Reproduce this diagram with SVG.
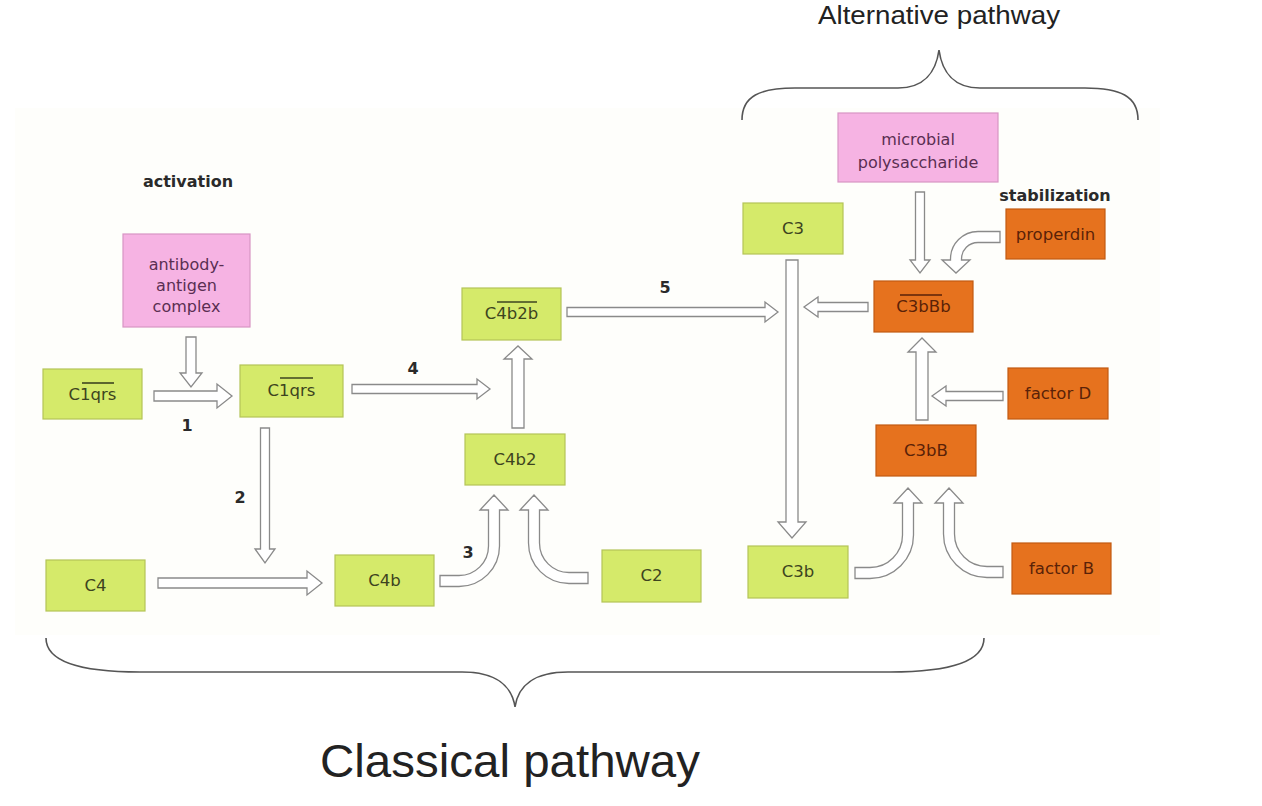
<svg xmlns="http://www.w3.org/2000/svg" width="1262" height="806" viewBox="0 0 1262 806">
<style>
.g rect{fill:#d5ea6a;stroke:#b4c458;stroke-width:1.2}
.o rect{fill:#e6721e;stroke:#c25a12;stroke-width:1.2}
.p rect{fill:#f6b3e3;stroke:#d894c4;stroke-width:1.2}
.n text{font-family:"DejaVu Sans",sans-serif;font-size:16.5px;text-anchor:middle}
.g text{fill:#3d4420}
.o text{fill:#5a2208}
.p text{fill:#5a2e52;font-size:16px}
.ol{stroke-width:1.6}
.g .ol{stroke:#3d4420}
.o .ol{stroke:#5a2208}
.lbl{font-family:"DejaVu Sans",sans-serif;font-weight:bold;font-size:16px;fill:#2a2a2a;text-anchor:middle}
.arr path{fill:#fff;stroke:#8a8a8a;stroke-width:1.3;stroke-linejoin:miter}
.brace{fill:none;stroke:#555;stroke-width:1.6}
.title{font-family:"Liberation Sans",Arial,sans-serif;fill:#222;text-anchor:middle}
</style>
<rect x="15" y="108" width="1145" height="527" fill="#fefefb"/>

<g id="braces">
<path class="brace" d="M742,120 C742,96 760,88 795,88 L898,88 C924,88 936,72 939,50 C942,72 954,88 980,88 L1085,88 C1120,88 1138,96 1138,120"/>
<path class="brace" d="M46,638 C46,662 80,672 140,672 L462,672 C496,672 512,686 515,707 C518,686 534,672 568,672 L890,672 C950,672 984,662 984,638"/>
</g>
<text class="title" x="939" y="24" font-size="26" textLength="242" lengthAdjust="spacingAndGlyphs">Alternative pathway</text>
<text class="title" x="510" y="777" font-size="46" textLength="380" lengthAdjust="spacingAndGlyphs">Classical pathway</text>

<text class="lbl" x="188" y="187">activation</text>
<text class="lbl" x="1055" y="201">stabilization</text>
<text class="lbl" x="187" y="431">1</text>
<text class="lbl" x="240" y="503">2</text>
<text class="lbl" x="468" y="558">3</text>
<text class="lbl" x="413" y="374">4</text>
<text class="lbl" x="665" y="293">5</text>

<g id="connectors" class="arr">
<path d="M154,391 L217,391 L217,384 L232,396 L217,408 L217,401 L154,401 Z"/>
<path d="M186,337 L186,373 L180,373 L191,387 L202,373 L196,373 L196,337 Z"/>
<path d="M352,384.5 L477,384.5 L477,379 L490,389 L477,399 L477,393.5 L352,393.5 Z"/>
<path d="M260.5,428 L260.5,549 L255,549 L265,563 L275,549 L269.5,549 L269.5,428 Z"/>
<path d="M158,578 L307,578 L307,571 L322,583 L307,595 L307,588 L158,588 Z"/>
<path d="M440,575.5 L459,575.5 A29.5,29.5 0 0 0 488.5,546 L488.5,510 L480,510 L494,495 L508,510 L499.5,510 L499.5,546 A40.5,40.5 0 0 1 459,586.5 L440,586.5 Z"/>
<path d="M588,572.5 L569,572.5 A29.5,29.5 0 0 1 539.5,543 L539.5,510 L548,510 L534,495 L520,510 L528.5,510 L528.5,543 A40.5,40.5 0 0 0 569,583.5 L588,583.5 Z"/>
<path d="M512,428 L512,359 L504,359 L518,346 L532,359 L524,359 L524,428 Z"/>
<path d="M567,307.5 L765,307.5 L765,302 L778,312 L765,322 L765,316.5 L567,316.5 Z"/>
<path d="M786,260 L786,522 L778,522 L792,538 L806,522 L798,522 L798,260 Z"/>
<path d="M915.5,192 L915.5,260 L910,260 L920,273 L930,260 L924.5,260 L924.5,192 Z"/>
<path d="M1000,231.5 L978,231.5 A27.5,27.5 0 0 0 950.5,259 L950.5,260 L942,260 L956,273 L970,260 L961.5,260 L961.5,259 A16.5,16.5 0 0 1 978,242.5 L1000,242.5 Z"/>
<path d="M868,302.5 L818,302.5 L818,297 L804,307 L818,317 L818,311.5 L868,311.5 Z"/>
<path d="M916,420 L916,352 L908,352 L922,338 L936,352 L928,352 L928,420 Z"/>
<path d="M1003,391.5 L946,391.5 L946,386 L932,396 L946,406 L946,400.5 L1003,400.5 Z"/>
<path d="M855,567.5 L870,567.5 A32.5,32.5 0 0 0 902.5,535 L902.5,503 L894,503 L908,488 L922,503 L913.5,503 L913.5,535 A43.5,43.5 0 0 1 870,578.5 L855,578.5 Z"/>
<path d="M1003,566.5 L987,566.5 A32.5,32.5 0 0 1 954.5,534 L954.5,503 L963,503 L949,488 L935,503 L943.5,503 L943.5,534 A43.5,43.5 0 0 0 987,577.5 L1003,577.5 Z"/>
</g>

<g id="ab_complex" class="n p">
<rect x="123" y="234" width="127" height="93"/>
<text x="186.5" y="270">antibody-</text>
<text x="186.5" y="291">antigen</text>
<text x="186.5" y="312">complex</text>
</g>
<g id="c1qrs_a" class="n g">
<rect x="43" y="369" width="99" height="50"/>
<text x="92.5" y="400">C1qrs</text>
<line class="ol" x1="82" y1="383" x2="114" y2="383"/>
</g>
<g id="c1qrs_b" class="n g">
<rect x="240" y="365" width="103" height="52"/>
<text x="291.5" y="396">C1qrs</text>
<line class="ol" x1="280" y1="378" x2="313" y2="378"/>
</g>
<g id="c4" class="n g">
<rect x="46" y="560" width="99" height="51"/>
<text x="95.5" y="591">C4</text>
</g>
<g id="c4b" class="n g">
<rect x="335" y="555" width="99" height="51"/>
<text x="384.5" y="586">C4b</text>
</g>
<g id="c4b2" class="n g">
<rect x="465" y="434" width="100" height="51"/>
<text x="515" y="465">C4b2</text>
</g>
<g id="c4b2b" class="n g">
<rect x="462" y="288" width="99" height="52"/>
<text x="511.5" y="319">C4b2b</text>
<line class="ol" x1="497" y1="302" x2="537" y2="302"/>
</g>
<g id="c2" class="n g">
<rect x="602" y="550" width="99" height="52"/>
<text x="651.5" y="581">C2</text>
</g>
<g id="c3" class="n g">
<rect x="743" y="203" width="100" height="51"/>
<text x="793" y="234">C3</text>
</g>
<g id="c3b" class="n g">
<rect x="748" y="546" width="100" height="52"/>
<text x="798" y="577">C3b</text>
</g>
<g id="microbial" class="n p">
<rect x="838" y="113" width="160" height="69"/>
<text x="918" y="145">microbial</text>
<text x="918" y="168">polysaccharide</text>
</g>
<g id="properdin" class="n o">
<rect x="1006" y="209" width="99" height="50"/>
<text x="1055.5" y="240">properdin</text>
</g>
<g id="c3bBb" class="n o">
<rect x="874" y="281" width="99" height="51"/>
<text x="923.5" y="312">C3bBb</text>
<line class="ol" x1="900" y1="295" x2="942" y2="295"/>
</g>
<g id="factorD" class="n o">
<rect x="1008" y="368" width="100" height="51"/>
<text x="1058" y="399">factor D</text>
</g>
<g id="c3bB" class="n o">
<rect x="876" y="425" width="100" height="51"/>
<text x="926" y="456">C3bB</text>
</g>
<g id="factorB" class="n o">
<rect x="1012" y="543" width="99" height="51"/>
<text x="1061.5" y="574">factor B</text>
</g>
</svg>
